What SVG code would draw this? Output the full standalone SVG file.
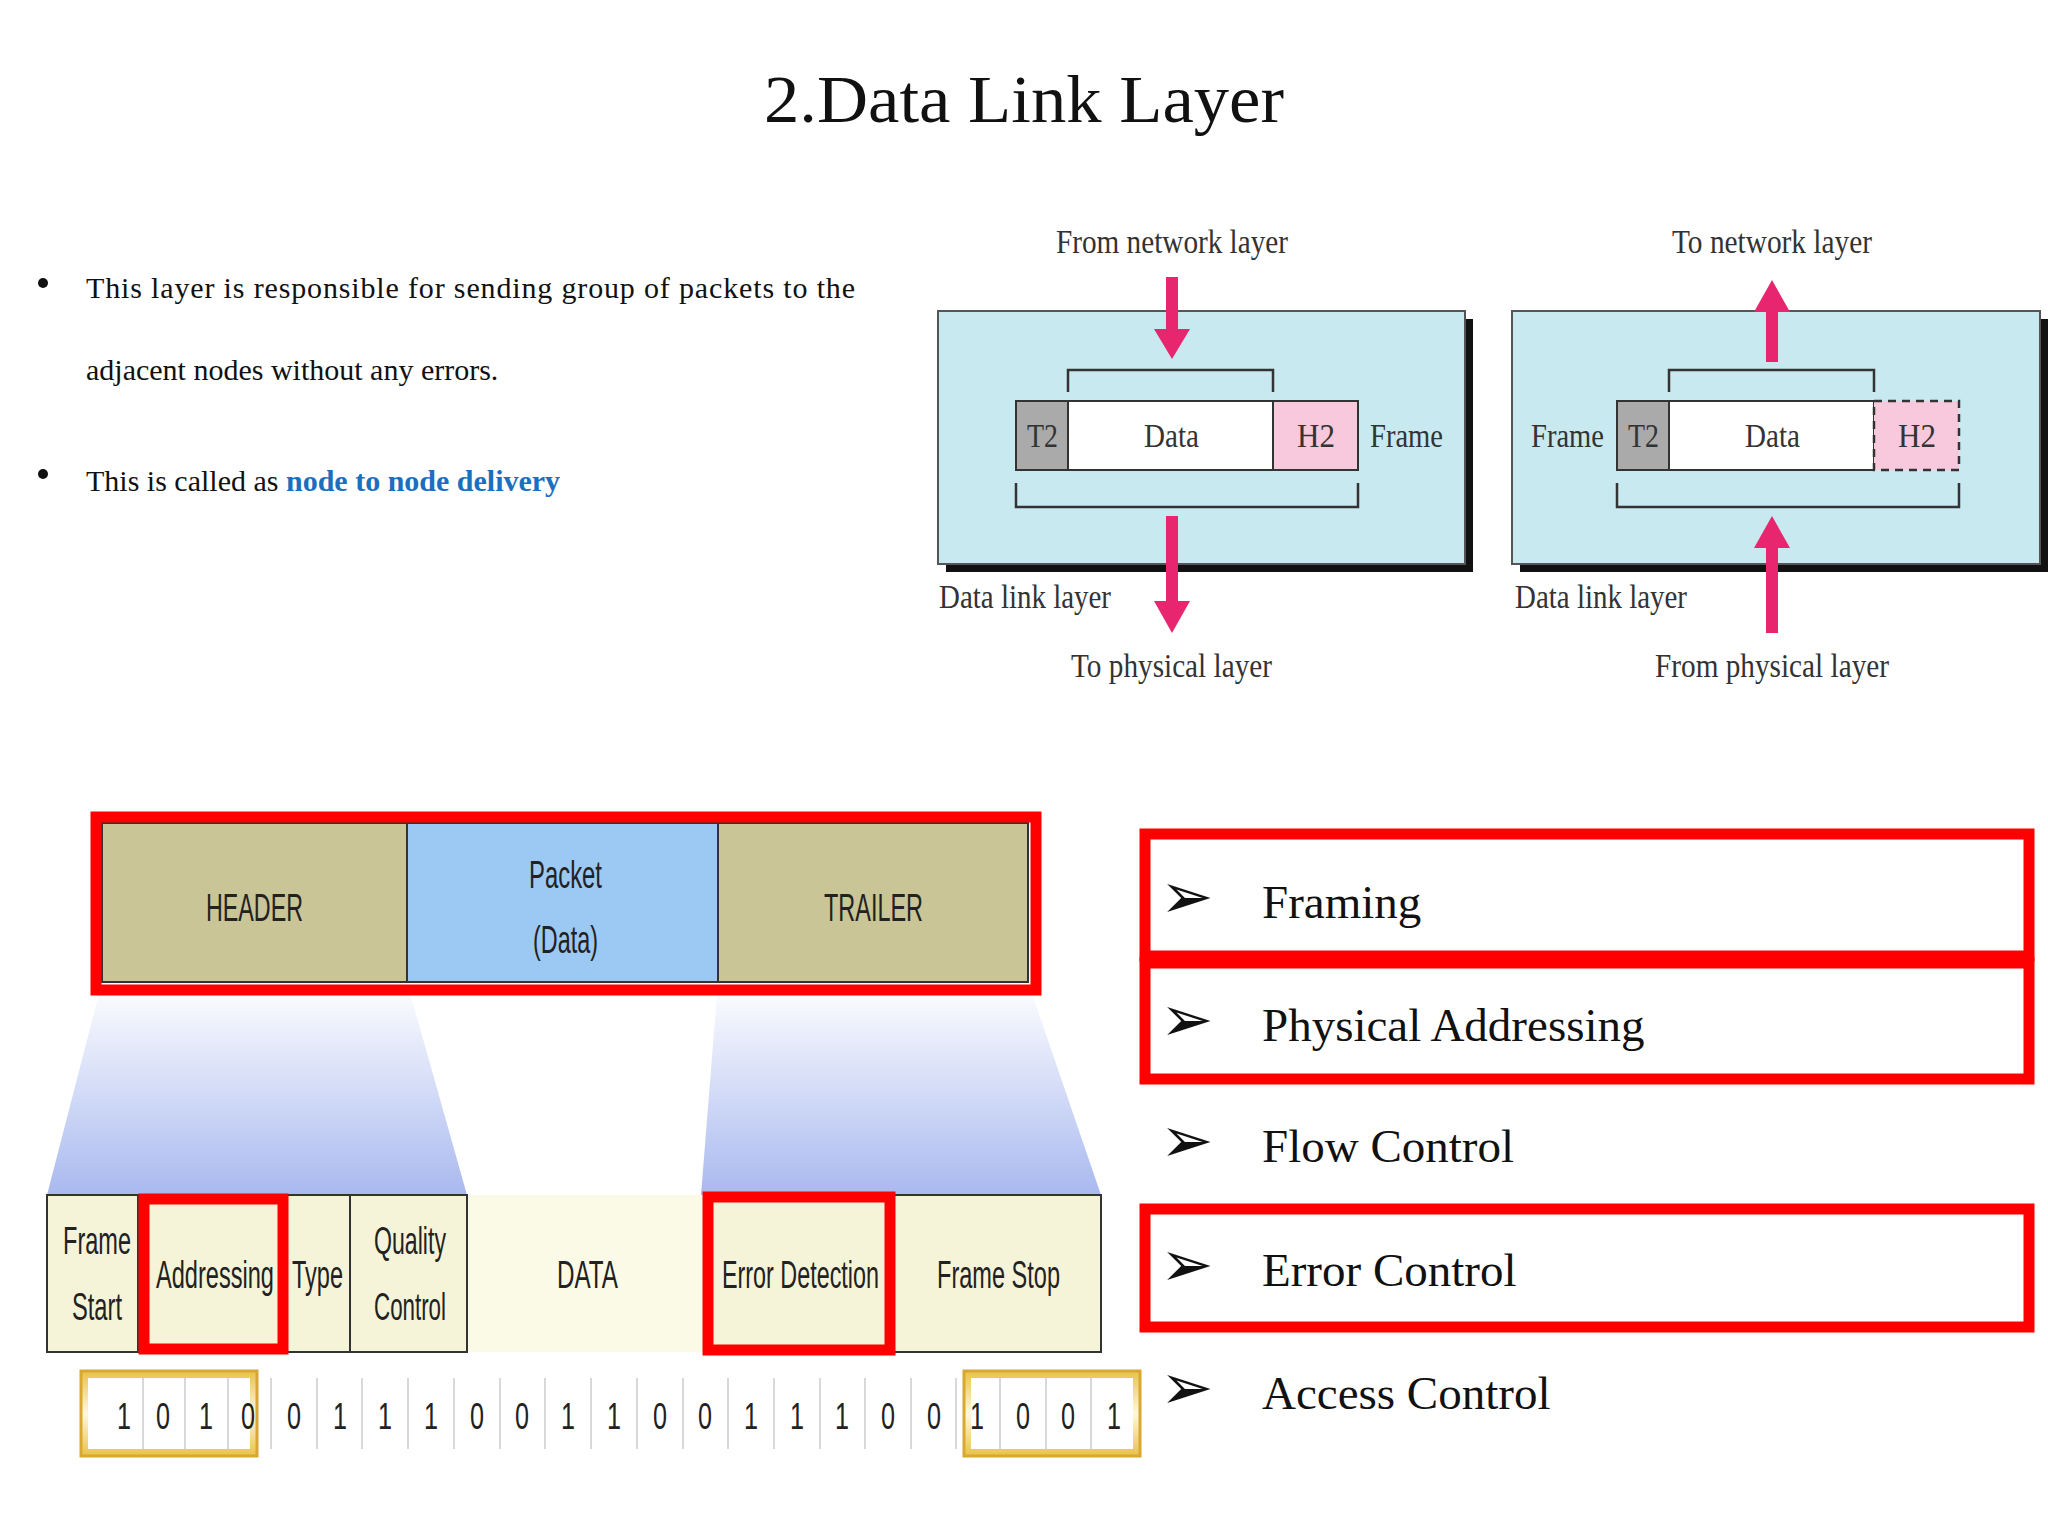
<svg xmlns="http://www.w3.org/2000/svg" width="2048" height="1536" viewBox="0 0 2048 1536">
<defs>
<style>
.s{font-family:"Liberation Serif",serif;fill:#111}
.n{font-family:"Liberation Sans",sans-serif;fill:#222}
.t{font-family:"Liberation Serif",serif;fill:#333}
.box{fill:#c8e9f0;stroke:#555;stroke-width:2}
.br{fill:none;stroke:#333;stroke-width:2.5}
.red{fill:none;stroke:#f00;stroke-width:11}
.cell{stroke:#333;stroke-width:2}
.pk{fill:#e8256f}
</style>
<linearGradient id="g" x1="0" y1="0" x2="0" y2="1"><stop offset="0" stop-color="#fff"/><stop offset="1" stop-color="#a9b9ef"/></linearGradient>
<linearGradient id="gold" x1="0" y1="0" x2="0" y2="1"><stop offset="0" stop-color="#e9c24a"/><stop offset="0.5" stop-color="#fff8dc"/><stop offset="1" stop-color="#e9c24a"/></linearGradient>
</defs>
<rect width="2048" height="1536" fill="#fff"/>
<text class="s" x="764" y="122" font-size="68" textLength="520" lengthAdjust="spacingAndGlyphs">2.Data Link Layer</text>
<g id="bullets" class="s" font-size="30">
<circle cx="43" cy="283" r="5" fill="#111"/>
<text x="86" y="298" textLength="769" lengthAdjust="spacing">This layer is responsible for sending group of packets to the</text>
<text x="86" y="380">adjacent nodes without any errors.</text>
<circle cx="43" cy="474" r="5" fill="#111"/>
<text x="86" y="491">This is called as <tspan fill="#1a6fc0" font-weight="bold">node to node delivery</tspan></text>
</g>
<g id="sender" class="t" font-size="34">
<rect x="946" y="319" width="527" height="253" fill="#111"/>
<rect class="box" x="938" y="311" width="527" height="253"/>
<rect class="cell" x="1016" y="401" width="52" height="69" fill="#aaa"/>
<rect class="cell" x="1068" y="401" width="205" height="69" fill="#fff"/>
<rect class="cell" x="1273" y="401" width="85" height="69" fill="#f8c8dc"/>
<path class="br" d="M1068 392V370H1273V392M1016 483V507H1358V483"/>
<text x="1027" y="447" textLength="31" lengthAdjust="spacingAndGlyphs">T2</text>
<text x="1144" y="447" textLength="55" lengthAdjust="spacingAndGlyphs">Data</text>
<text x="1297" y="447" textLength="38" lengthAdjust="spacingAndGlyphs">H2</text>
<text x="1370" y="447" textLength="73" lengthAdjust="spacingAndGlyphs">Frame</text>
<path class="pk" d="M1166 277h12v52h12l-18 30l-18-30h12z"/>
<path class="pk" d="M1166 516h12v85h12l-18 32l-18-32h12z"/>
<text x="1056" y="253" textLength="232" lengthAdjust="spacingAndGlyphs">From network layer</text>
<text x="939" y="608" textLength="172" lengthAdjust="spacingAndGlyphs">Data link layer</text>
<text x="1071" y="677" textLength="201" lengthAdjust="spacingAndGlyphs">To physical layer</text>
</g>
<g id="receiver" class="t" font-size="34">
<rect x="1520" y="319" width="528" height="253" fill="#111"/>
<rect class="box" x="1512" y="311" width="528" height="253"/>
<rect class="cell" x="1617" y="401" width="52" height="69" fill="#aaa"/>
<rect class="cell" x="1669" y="401" width="205" height="69" fill="#fff"/>
<rect x="1874" y="401" width="85" height="69" fill="#f8c8dc" stroke="#333" stroke-width="2.5" stroke-dasharray="8 6"/>
<path class="br" d="M1669 392V370H1874V392M1617 483V507H1959V483"/>
<text x="1628" y="447" textLength="31" lengthAdjust="spacingAndGlyphs">T2</text>
<text x="1745" y="447" textLength="55" lengthAdjust="spacingAndGlyphs">Data</text>
<text x="1898" y="447" textLength="38" lengthAdjust="spacingAndGlyphs">H2</text>
<text x="1531" y="447" textLength="73" lengthAdjust="spacingAndGlyphs">Frame</text>
<path class="pk" d="M1766 362h12v-50h12l-18-32l-18 32h12z"/>
<path class="pk" d="M1766 633h12v-85h12l-18-32l-18 32h12z"/>
<text x="1672" y="253" textLength="200" lengthAdjust="spacingAndGlyphs">To network layer</text>
<text x="1515" y="608" textLength="172" lengthAdjust="spacingAndGlyphs">Data link layer</text>
<text x="1655" y="677" textLength="234" lengthAdjust="spacingAndGlyphs">From physical layer</text>
</g>
<g id="frame">
<path d="M102 982H407L467 1195H47Z" fill="url(#g)"/>
<path d="M718 982H1028L1101 1195H701Z" fill="url(#g)"/>
<rect class="cell" x="102" y="823" width="305" height="159" fill="#c9c596"/>
<rect class="cell" x="407" y="823" width="311" height="159" fill="#9cc8f4"/>
<rect class="cell" x="718" y="823" width="310" height="159" fill="#c9c596"/>
<g class="n" font-size="38">
<text x="206" y="921" textLength="97" lengthAdjust="spacingAndGlyphs">HEADER</text>
<text x="529" y="888" textLength="73" lengthAdjust="spacingAndGlyphs">Packet</text>
<text x="533" y="953" textLength="65" lengthAdjust="spacingAndGlyphs">(Data)</text>
<text x="824" y="921" textLength="99" lengthAdjust="spacingAndGlyphs">TRAILER</text>
</g>
<rect class="red" x="96" y="817" width="940" height="173"/>
<rect x="467" y="1195" width="238" height="157" fill="#fafae6"/>
<g class="cell" fill="#f6f4d8">
<rect x="47" y="1195" width="91" height="157"/>
<rect x="138" y="1195" width="147" height="157"/>
<rect x="285" y="1195" width="65" height="157"/>
<rect x="350" y="1195" width="117" height="157"/>
<rect x="705" y="1195" width="187" height="157"/>
<rect x="892" y="1195" width="209" height="157"/>
</g>
<g class="n" font-size="38">
<text x="63" y="1254" textLength="68" lengthAdjust="spacingAndGlyphs">Frame</text>
<text x="72" y="1320" textLength="50" lengthAdjust="spacingAndGlyphs">Start</text>
<text x="156" y="1288" textLength="118" lengthAdjust="spacingAndGlyphs">Addressing</text>
<text x="292" y="1288" textLength="51" lengthAdjust="spacingAndGlyphs">Type</text>
<text x="374" y="1254" textLength="72" lengthAdjust="spacingAndGlyphs">Quality</text>
<text x="374" y="1320" textLength="72" lengthAdjust="spacingAndGlyphs">Control</text>
<text x="557" y="1288" textLength="61" lengthAdjust="spacingAndGlyphs">DATA</text>
<text x="722" y="1288" textLength="157" lengthAdjust="spacingAndGlyphs">Error Detection</text>
<text x="937" y="1288" textLength="123" lengthAdjust="spacingAndGlyphs">Frame Stop</text>
</g>
<rect class="red" x="144" y="1199" width="139" height="150"/>
<rect class="red" x="708" y="1197" width="182" height="153"/>
<rect x="81" y="1371" width="176" height="85" fill="url(#gold)" stroke="#d8a830" stroke-width="3"/>
<rect x="964" y="1371" width="176" height="85" fill="url(#gold)" stroke="#d8a830" stroke-width="3"/>
<rect x="88" y="1378" width="162" height="71" fill="#fff"/>
<rect x="971" y="1378" width="162" height="71" fill="#fff"/>
<g stroke="#ccc" stroke-width="1.5">
<path d="M143 1378v71M185 1378v71M228 1378v71M271 1378v71M317 1378v71M362 1378v71M408 1378v71M454 1378v71M500 1378v71M545 1378v71M591 1378v71M637 1378v71M683 1378v71M728 1378v71M774 1378v71M820 1378v71M865 1378v71M911 1378v71M956 1378v71M1000 1378v71M1046 1378v71M1091 1378v71"/>
</g>
<g class="n" font-size="36" text-anchor="middle">
<text x="124" y="1429" textLength="14" lengthAdjust="spacingAndGlyphs">1</text><text x="163" y="1429" textLength="14" lengthAdjust="spacingAndGlyphs">0</text><text x="206" y="1429" textLength="14" lengthAdjust="spacingAndGlyphs">1</text><text x="248" y="1429" textLength="14" lengthAdjust="spacingAndGlyphs">0</text>
<text x="294" y="1429" textLength="14" lengthAdjust="spacingAndGlyphs">0</text><text x="340" y="1429" textLength="14" lengthAdjust="spacingAndGlyphs">1</text><text x="385" y="1429" textLength="14" lengthAdjust="spacingAndGlyphs">1</text><text x="431" y="1429" textLength="14" lengthAdjust="spacingAndGlyphs">1</text><text x="477" y="1429" textLength="14" lengthAdjust="spacingAndGlyphs">0</text><text x="522" y="1429" textLength="14" lengthAdjust="spacingAndGlyphs">0</text><text x="568" y="1429" textLength="14" lengthAdjust="spacingAndGlyphs">1</text><text x="614" y="1429" textLength="14" lengthAdjust="spacingAndGlyphs">1</text><text x="660" y="1429" textLength="14" lengthAdjust="spacingAndGlyphs">0</text><text x="705" y="1429" textLength="14" lengthAdjust="spacingAndGlyphs">0</text><text x="751" y="1429" textLength="14" lengthAdjust="spacingAndGlyphs">1</text><text x="797" y="1429" textLength="14" lengthAdjust="spacingAndGlyphs">1</text><text x="842" y="1429" textLength="14" lengthAdjust="spacingAndGlyphs">1</text><text x="888" y="1429" textLength="14" lengthAdjust="spacingAndGlyphs">0</text><text x="934" y="1429" textLength="14" lengthAdjust="spacingAndGlyphs">0</text>
<text x="977" y="1429" textLength="14" lengthAdjust="spacingAndGlyphs">1</text><text x="1023" y="1429" textLength="14" lengthAdjust="spacingAndGlyphs">0</text><text x="1068" y="1429" textLength="14" lengthAdjust="spacingAndGlyphs">0</text><text x="1114" y="1429" textLength="14" lengthAdjust="spacingAndGlyphs">1</text>
</g>
</g>
<g id="functions" class="s" font-size="47">
<g font-family="DejaVu Sans,sans-serif" font-size="64">
<text x="1160" y="918">➢</text>
<text x="1160" y="1041">➢</text>
<text x="1160" y="1162">➢</text>
<text x="1160" y="1286">➢</text>
<text x="1160" y="1409">➢</text>
</g>
<text x="1262" y="918">Framing</text>
<text x="1262" y="1041">Physical Addressing</text>
<text x="1262" y="1162">Flow Control</text>
<text x="1262" y="1286">Error Control</text>
<text x="1262" y="1409">Access Control</text>
<rect class="red" x="1145" y="834" width="884" height="122"/>
<rect class="red" x="1145" y="963" width="884" height="116"/>
<rect class="red" x="1145" y="1209" width="884" height="118"/>
</g>
</svg>
